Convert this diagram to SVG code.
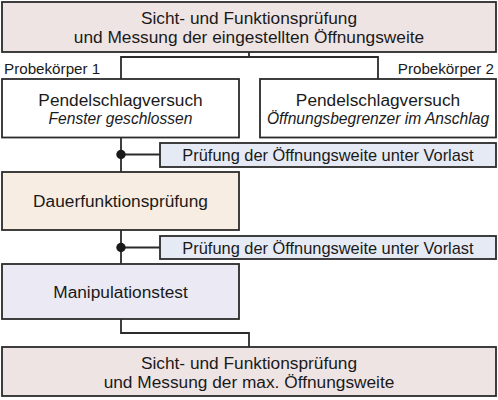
<svg xmlns="http://www.w3.org/2000/svg" width="498" height="400" viewBox="0 0 498 400">
<style>
.box{stroke:#2b2b2b;stroke-width:1.8}
.t{font-family:"Liberation Sans",Arial,sans-serif;fill:#1a1a1a;text-anchor:middle}
.m{font-size:17.3px}
.i{font-size:15.6px;font-style:italic}
.s{font-size:15.2px}
.l{font-size:16.4px}
.ln{fill:none;stroke:#2b2b2b;stroke-width:1.8}
</style>
<rect width="498" height="400" fill="#ffffff"/>
<g id="connectors">
<path class="ln" d="M249 52 V57 H121 V79 M249 57 H378 V79"/>
<path class="ln" d="M121 138 V172 M121 154.5 H160"/>
<path class="ln" d="M121 230 V264 M121 247.5 H160"/>
<path class="ln" d="M121 319 V333 H249 V347"/>
<circle cx="121" cy="154.5" r="4.7" fill="#1a1a1a"/>
<circle cx="121" cy="247.5" r="4.7" fill="#1a1a1a"/>
</g>
<g id="start">
<rect class="box" x="2" y="2" width="494" height="50" fill="#efe4e4"/>
<text class="t m" x="249" y="23.5">Sicht- und Funktionsprüfung</text>
<text class="t m" x="249" y="43">und Messung der eingestellten Öffnungsweite</text>
</g>
<g id="label1"><text class="t s" x="4" y="74" style="text-anchor:start">Probekörper 1</text></g>
<g id="label2"><text class="t s" x="494" y="74" style="text-anchor:end">Probekörper 2</text></g>
<g id="pendel1">
<rect class="box" x="2" y="79" width="237" height="58.5" fill="#ffffff"/>
<text class="t m" x="120.5" y="106">Pendelschlagversuch</text>
<text class="t i" x="120.5" y="123.5">Fenster geschlossen</text>
</g>
<g id="pendel2">
<rect class="box" x="260" y="79" width="236" height="58.5" fill="#ffffff"/>
<text class="t m" x="378" y="106">Pendelschlagversuch</text>
<text class="t i" x="378" y="123.5">Öffnungsbegrenzer im Anschlag</text>
</g>
<g id="pruef1">
<rect class="box" x="160" y="143" width="336" height="24" fill="#e6eaf4"/>
<text class="t l" x="328" y="160.5">Prüfung der Öffnungsweite unter Vorlast</text>
</g>
<g id="dauer">
<rect class="box" x="2" y="172" width="237" height="58" fill="#f7ede2"/>
<text class="t m" x="120.5" y="207">Dauerfunktionsprüfung</text>
</g>
<g id="pruef2">
<rect class="box" x="160" y="236" width="336" height="23" fill="#e6eaf4"/>
<text class="t l" x="328" y="253.5">Prüfung der Öffnungsweite unter Vorlast</text>
</g>
<g id="manip">
<rect class="box" x="2" y="264" width="237" height="55" fill="#ebe9f4"/>
<text class="t m" x="120.5" y="297.5">Manipulationstest</text>
</g>
<g id="end">
<rect class="box" x="2" y="347" width="494" height="49" fill="#efe4e4"/>
<text class="t m" x="249" y="368.5">Sicht- und Funktionsprüfung</text>
<text class="t m" x="249" y="388.3">und Messung der max. Öffnungsweite</text>
</g>
</svg>
